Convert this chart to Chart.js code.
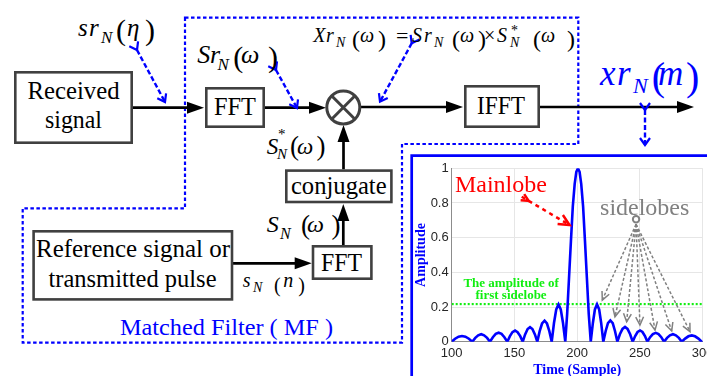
<!DOCTYPE html>
<html>
<head>
<meta charset="utf-8">
<script src="https://cdn.jsdelivr.net/npm/chart.js@4"></script>
<style>
  html, body { margin: 0; padding: 0; width: 707px; height: 376px; overflow: hidden; background: #fff; }
  #diagram { position: absolute; left: 0; top: 0; }
  #diagram text { font-family: 'Liberation Serif', 'DejaVu Serif', 'Times New Roman', serif; }
  #plotWrap { position: absolute; left: 413px; top: 157px; width: 320px; height: 226px; }
  #plotWrap canvas { display: block; }
</style>
</head>
<body>
<svg id="diagram" width="707" height="376" xmlns="http://www.w3.org/2000/svg">
  <defs>
    <marker id="tri" markerUnits="userSpaceOnUse" markerWidth="18" markerHeight="13" refX="12" refY="6" orient="auto" overflow="visible">
      <path d="M0,0 L17,6 L0,12 Z" fill="#000"/>
    </marker>
    <marker id="bv" markerUnits="userSpaceOnUse" markerWidth="12" markerHeight="12" refX="8" refY="5" orient="auto" overflow="visible">
      <path d="M1,0 L8,5 L1,10" fill="none" stroke="#0000ff" stroke-width="2.2"/>
    </marker>
  </defs>

  <!-- matched filter boundary -->
  <path d="M185,17.7 H578.3 V144 H402 V342.7 H22.7 V208.3 H185 Z" fill="none" stroke="#0000ff" stroke-width="2.2" stroke-dasharray="3.5 2.5"/>

  <!-- signal flow -->
  <g stroke="#000" stroke-width="2.7" fill="none">
    <path d="M133,107.7 H199" marker-end="url(#tri)"/>
    <path d="M265,107.7 H321" marker-end="url(#tri)"/>
    <path d="M360.5,107 H458" marker-end="url(#tri)"/>
    <path d="M540,107 H689" marker-end="url(#tri)"/>
    <path d="M233,263.3 H306.7" marker-end="url(#tri)"/>
    <path d="M343.3,245 V209" marker-end="url(#tri)"/>
    <path d="M343.5,169.3 V130" marker-end="url(#tri)"/>
  </g>

  <!-- blocks -->
  <g fill="#fff" stroke="#404040" stroke-width="2.6">
    <rect x="15.3" y="72.3" width="116.4" height="70.4"/>
    <rect x="206.3" y="88.3" width="57.4" height="38.4"/>
    <rect x="465.3" y="86.3" width="73.4" height="40.4"/>
    <rect x="33.6" y="231.3" width="198.4" height="68.1"/>
    <rect x="313" y="246.3" width="58.4" height="32.4"/>
    <rect x="286.3" y="170.6" width="105.1" height="31.4"/>
  </g>
  <g stroke="#404040" stroke-width="3" fill="#fff">
    <circle cx="343.3" cy="107.5" r="16.5"/>
    <path d="M331.6,95.8 L355,119.2 M355,95.8 L331.6,119.2"/>
  </g>

  <!-- pointers from the names to the signal paths -->
  <g stroke="#0000ff" stroke-width="2.4" stroke-dasharray="5 2.5" fill="none">
    <path d="M137,50 L165,102" marker-start="url(#bv)" marker-end="url(#bv)"/>
    <path d="M276,70 L297,108" marker-start="url(#bv)" marker-end="url(#bv)"/>
    <path d="M411.7,43.3 L380,101.7" marker-start="url(#bv)" marker-end="url(#bv)"/>
    <path d="M645,110 L645,145" marker-start="url(#bv)" marker-end="url(#bv)"/>
  </g>

  <!-- output panel frame -->
  <path d="M411.7,390 V155.7 H720" fill="none" stroke="#0000ff" stroke-width="2.7"/>

  <g id="labels"></g>
</svg>

<template id="labelTpl"><svg xmlns="http://www.w3.org/2000/svg">
  <g font-size="25" fill="#000" text-anchor="middle">
    <text x="73.5" y="99.3" textLength="92" lengthAdjust="spacingAndGlyphs">Received</text>
    <text x="73.5" y="128.3" textLength="57" lengthAdjust="spacingAndGlyphs">signal</text>
    <text x="235" y="115" textLength="42" lengthAdjust="spacingAndGlyphs">FFT</text>
    <text x="501" y="114" textLength="48" lengthAdjust="spacingAndGlyphs">IFFT</text>
    <text x="133" y="257.3" textLength="194" lengthAdjust="spacingAndGlyphs">Reference signal or</text>
    <text x="132.5" y="286.7" textLength="168" lengthAdjust="spacingAndGlyphs">transmitted pulse</text>
    <text x="341.5" y="271" textLength="41" lengthAdjust="spacingAndGlyphs">FFT</text>
    <text x="338.8" y="193.5" textLength="95.7" lengthAdjust="spacingAndGlyphs">conjugate</text>
  </g>
  <g fill="#000">
    <text font-size="25" font-style="italic">
      <tspan x="78" y="36">s</tspan><tspan x="89" y="36">r</tspan><tspan x="101" y="43" font-size="17">N</tspan>
      <tspan x="116" y="39.5" font-size="30" font-style="normal">(</tspan><tspan x="127" y="36">η</tspan><tspan x="145" y="39.5" font-size="30" font-style="normal">)</tspan>
    </text>
    <text font-size="26" font-style="italic">
      <tspan x="197.3" y="63.3">S</tspan><tspan x="210" y="63.3">r</tspan><tspan x="217.5" y="70" font-size="17">N</tspan>
      <tspan x="233.3" y="66.5" font-size="30" font-style="normal">(</tspan><tspan x="241" y="63.3">ω</tspan><tspan x="268" y="66.5" font-size="30" font-style="normal">)</tspan>
    </text>
    <text font-size="20" font-style="italic">
      <tspan x="313.3" y="42.3">X</tspan><tspan x="326" y="42.3">r</tspan><tspan x="336" y="47" font-size="14">N</tspan>
      <tspan x="352" y="46.5" font-size="24" font-style="normal">(</tspan><tspan x="360" y="42.3">ω</tspan><tspan x="378" y="46.5" font-size="24" font-style="normal">)</tspan>
      <tspan x="396" y="43" font-style="normal" font-size="22">=</tspan>
      <tspan x="412" y="42.3">S</tspan><tspan x="424" y="42.3">r</tspan><tspan x="434" y="47" font-size="14">N</tspan>
      <tspan x="452" y="46.5" font-size="24" font-style="normal">(</tspan><tspan x="460" y="42.3">ω</tspan><tspan x="478" y="46.5" font-size="24" font-style="normal">)</tspan>
      <tspan x="484" y="42.3" font-style="normal">×</tspan>
      <tspan x="497" y="42.3">S</tspan><tspan x="511" y="35" font-size="14" font-style="normal">*</tspan><tspan x="510" y="47" font-size="14">N</tspan>
      <tspan x="533" y="46.5" font-size="24" font-style="normal">(</tspan><tspan x="541" y="42.3">ω</tspan><tspan x="567" y="46.5" font-size="24" font-style="normal">)</tspan>
    </text>
    <text font-size="23" font-style="italic">
      <tspan x="266.7" y="154.3">S</tspan><tspan x="278" y="139" font-size="15" font-style="normal">*</tspan><tspan x="277" y="158.5" font-size="15">N</tspan>
      <tspan x="290" y="155" font-size="27" font-style="normal">(</tspan><tspan x="297" y="154.3">ω</tspan><tspan x="316.5" y="155" font-size="27" font-style="normal">)</tspan>
    </text>
    <text font-size="24" font-style="italic">
      <tspan x="266.7" y="232">S</tspan><tspan x="280" y="239" font-size="16">N</tspan>
      <tspan x="301" y="234" font-size="27" font-style="normal">(</tspan><tspan x="307" y="232">ω</tspan><tspan x="331.5" y="234" font-size="27" font-style="normal">)</tspan>
    </text>
    <text font-size="20" font-style="italic">
      <tspan x="242.7" y="286.7">s</tspan><tspan x="253" y="292" font-size="14">N</tspan>
      <tspan x="274" y="291.5" font-size="20" font-style="normal">(</tspan><tspan x="283.3" y="286.7">n</tspan><tspan x="298.3" y="291.5" font-size="20" font-style="normal">)</tspan>
    </text>
    <text font-size="35" font-style="italic" fill="#0000ff">
      <tspan x="600" y="85">x</tspan><tspan x="617" y="85">r</tspan><tspan x="633" y="93.3" font-size="22">N</tspan>
      <tspan x="651.7" y="89.5" font-size="40" font-style="normal">(</tspan><tspan x="658" y="85">m</tspan><tspan x="686" y="89.5" font-size="40" font-style="normal">)</tspan>
    </text>
    <text x="120" y="335" font-size="24" fill="#0000ff" textLength="213" lengthAdjust="spacingAndGlyphs">Matched Filter ( MF )</text>
  </g>
</svg></template>

<div id="plotWrap"><canvas id="plot" width="320" height="226"></canvas></div>

<script>
// compressed pulse magnitude, read along the sample axis
const sampleIndex = [
  100, 102.7, 105.5, 108.2, 110.9, 113.7,
  116.4, 118.8, 121.1, 123.5, 125.8, 128.2,
  130.5, 132.8, 135.1, 137.4, 139.7, 142.0,
  144.3, 146.4, 148.4, 150.5, 152.5, 154.6,
  156.6, 158.5, 160.5, 162.4, 164.3, 166.3,
  168.2, 170.1, 172.0, 174.0, 175.9, 177.8,
  179.7, 181.5, 183.3, 185.1, 186.9, 188.7,
  190.5, 192.0, 193.5, 195.0, 196.5, 198.0, 199.3, 200.6, 201.9, 203.2, 204.7, 206.2, 207.7, 209.2,
  210.8, 212.5, 214.1, 215.8, 217.5, 219.1,
  220.8, 222.7, 224.5, 226.4, 228.3, 230.1,
  232.0, 234.0, 236.1, 238.1, 240.1, 242.2,
  244.2, 246.2, 248.1, 250.1, 252.0, 254.0,
  255.9, 258.1, 260.3, 262.6, 264.8, 267.0,
  269.2, 271.6, 273.9, 276.3, 278.6, 281.0,
  283.3, 286.0, 288.6, 291.3, 293.9, 296.6,
  299.2, 300
];
const amplitude = [
  0, 0.017, 0.029, 0.033, 0.029, 0.017,
  0, 0.022, 0.037, 0.043, 0.037, 0.022,
  0, 0.026, 0.045, 0.052, 0.045, 0.026,
  0, 0.032, 0.055, 0.064, 0.055, 0.032,
  0, 0.042, 0.073, 0.084, 0.073, 0.042,
  0, 0.061, 0.105, 0.121, 0.105, 0.061,
  0, 0.108, 0.186, 0.215, 0.186, 0.108,
  0, 0.16, 0.37, 0.58, 0.78, 0.91, 0.98, 1.0, 0.98, 0.91, 0.78, 0.58, 0.37, 0.16,
  0, 0.108, 0.186, 0.215, 0.186, 0.108,
  0, 0.062, 0.107, 0.123, 0.107, 0.062,
  0, 0.043, 0.074, 0.085, 0.074, 0.043,
  0, 0.033, 0.056, 0.065, 0.056, 0.033,
  0, 0.026, 0.044, 0.051, 0.044, 0.026,
  0, 0.022, 0.037, 0.043, 0.037, 0.022,
  0, 0.018, 0.031, 0.036, 0.031, 0.018,
  0, 0.003
];
const firstSidelobeLevel = 0.217;
const xTickValues = [100, 150, 200, 250, 300];
const yTickValues = [0, 0.2, 0.4, 0.6, 0.8, 1];

// where the sidelobe pointers land (sample, amplitude)
const sidelobeTargets = [
  [220.0, 0.240], [230.1, 0.144], [239.4, 0.115], [250.0, 0.096],
  [262.0, 0.067], [275.3, 0.062], [289.9, 0.058]
];

const SERIF = '"Liberation Serif", "DejaVu Serif", "Times New Roman", serif';
const SANS = '"Liberation Sans", Arial, sans-serif';

function dashedPointer(ctx, x1, y1, x2, y2, o) {
  const a = Math.atan2(y2 - y1, x2 - x1);
  ctx.save();
  ctx.strokeStyle = o.color;
  ctx.lineWidth = o.width;
  ctx.setLineDash(o.dash);
  ctx.beginPath(); ctx.moveTo(x1, y1); ctx.lineTo(x2, y2); ctx.stroke();
  ctx.setLineDash([]);
  const chevron = (tx, ty, s) => {
    ctx.beginPath();
    ctx.moveTo(tx - s * Math.cos(a - 0.45), ty - s * Math.sin(a - 0.45));
    ctx.lineTo(tx, ty);
    ctx.lineTo(tx - s * Math.cos(a + 0.45), ty - s * Math.sin(a + 0.45));
    ctx.stroke();
  };
  chevron(x2, y2, o.head);
  if (o.startHead) chevron(x1 + o.startHead * Math.cos(a), y1 + o.startHead * Math.sin(a), o.startHead);
  ctx.restore();
}

const lobeNotes = {
  id: 'lobeNotes',
  afterDatasetsDraw(chart) {
    const { ctx, scales: { x, y } } = chart;
    const px = v => x.getPixelForValue(v);
    const py = v => y.getPixelForValue(v);
    ctx.save();
    ctx.textBaseline = 'alphabetic';

    ctx.font = '24px ' + SERIF;
    ctx.fillStyle = '#ff0000';
    ctx.textAlign = 'left';
    ctx.fillText('Mainlobe', px(102.6), py(0.865), 95);
    dashedPointer(ctx, px(155.8), py(0.836), px(193.9), py(0.673),
      { color: '#ff0000', width: 2.5, dash: [4, 4], head: 12, startHead: 8 });

    ctx.fillStyle = '#808080';
    ctx.fillText('sidelobes', px(218.2), py(0.731), 92);
    const cx = px(246.9), cy = py(0.706);
    ctx.beginPath(); ctx.arc(cx, cy, 3.2, 0, 2 * Math.PI);
    ctx.lineWidth = 2; ctx.strokeStyle = '#808080'; ctx.stroke();
    sidelobeTargets.forEach(([sx, sy]) => {
      dashedPointer(ctx, cx, cy + 5, px(sx), py(sy),
        { color: '#808080', width: 1.5, dash: [3, 2], head: 9 });
    });

    ctx.font = 'bold 13px ' + SERIF;
    ctx.fillStyle = '#11ee11';
    ctx.textAlign = 'center';
    ctx.fillText('The amplitude of', px(147.3), py(0.317));
    ctx.fillText('first sidelobe', px(147.3), py(0.246));
    ctx.restore();
  }
};

function placeLabels() {
  const src = document.getElementById('labelTpl').content.firstElementChild;
  const dst = document.getElementById('labels');
  while (src.firstChild) {
    dst.appendChild(document.importNode(src.firstChild, true));
    src.removeChild(src.firstChild);
  }
}

function drawPlot() {
  const curve = sampleIndex.map((s, i) => ({ x: s, y: amplitude[i] }));
  const levelLine = [{ x: xTickValues[0], y: firstSidelobeLevel }, { x: xTickValues[xTickValues.length - 1], y: firstSidelobeLevel }];

  new Chart(document.getElementById('plot'), {
    type: 'line',
    data: {
      datasets: [
        { data: curve, borderColor: '#0000ff', borderWidth: 2.6, pointRadius: 0, tension: 0, fill: false },
        { data: levelLine, borderColor: '#11ee11', borderWidth: 2.2, borderDash: [2, 2], pointRadius: 0, fill: false }
      ]
    },
    plugins: [lobeNotes],
    options: {
      responsive: false,
      animation: false,
      events: [],
      layout: { padding: { top: 11.3, right: 30.3, left: 0, bottom: 0 } },
      plugins: { legend: { display: false }, tooltip: { enabled: false } },
      scales: {
        x: {
          type: 'linear', min: 100, max: 300,
          afterBuildTicks: s => { s.ticks = xTickValues.map(v => ({ value: v })); },
          afterFit: s => { s.height = 41.3; },
          ticks: { padding: 4, color: '#262626', font: { family: SANS, size: 13 }, maxRotation: 0 },
          grid: { color: '#e6e6e6', drawTicks: false },
          border: { color: '#8c8c8c' },
          title: { display: true, text: 'Time (Sample)', color: '#0000ff', padding: { top: 0, bottom: 4 },
                   font: { family: SERIF, size: 14, weight: 'bold' } }
        },
        y: {
          type: 'linear', min: 0, max: 1,
          afterBuildTicks: s => { s.ticks = yTickValues.map(v => ({ value: v })); },
          afterFit: s => { s.width = 38.7; },
          ticks: { padding: 3, color: '#262626', font: { family: SANS, size: 13 },
                   callback: v => String(+v.toFixed(1)) },
          grid: { color: '#e6e6e6', drawTicks: false },
          border: { color: '#8c8c8c' },
          title: { display: true, text: 'Amplitude', color: '#0000ff', padding: { top: 0, bottom: 0 },
                   font: { family: SERIF, size: 14, weight: 'bold' } }
        }
      }
    }
  });
}

function render() {
  placeLabels();
  drawPlot();
}

const ready = (document.fonts && document.fonts.ready) ? document.fonts.ready : Promise.resolve();
ready.then(() => setTimeout(render, 40), () => setTimeout(render, 40));
</script>
</body>
</html>
